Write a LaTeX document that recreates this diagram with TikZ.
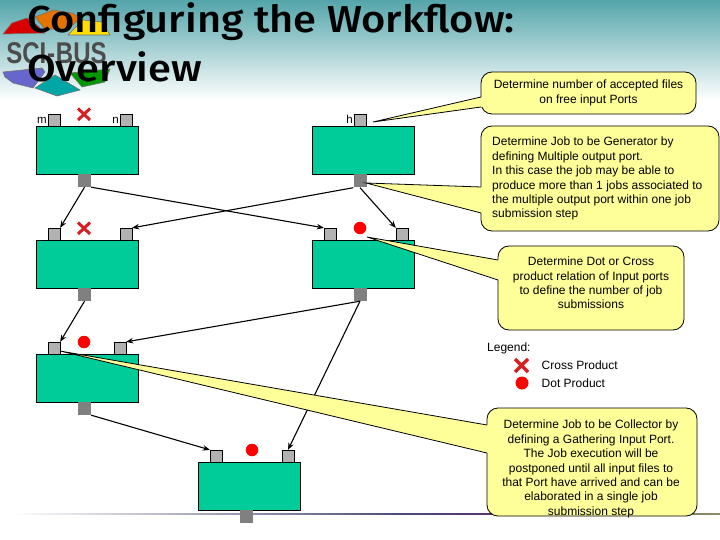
\documentclass[tikz,border=0pt]{standalone}
\usepackage{fontspec}
\setmainfont{Liberation Sans}
\newfontfamily\titlefont{Fira Sans Medium}
\usetikzlibrary{arrows.meta,shadings}
\definecolor{jobgreen}{HTML}{00CC99}
\definecolor{portgray}{HTML}{B2B2B2}
\definecolor{outgray}{HTML}{808080}
\definecolor{noteyellow}{HTML}{FFFF99}
\definecolor{crossred}{HTML}{D81E20}
\tikzset{
  x=1pt,y=-1pt,
  job/.style={draw=black,line width=0.8pt,fill=jobgreen,minimum width=102pt,minimum height=48pt,inner sep=0pt},
  inport/.style={draw=black,line width=0.3pt,fill=portgray,minimum width=12pt,minimum height=12pt,inner sep=0pt},
  outport/.style={fill=outgray,minimum width=13pt,minimum height=13pt,inner sep=0pt},
  flow/.style={draw=black,line width=1.1pt,-{Stealth[length=7pt,width=5.5pt]}},
  note/.style={draw=black,line width=0.8pt,fill=noteyellow,rounded corners=11pt,inner sep=0pt},
  tail/.style={draw=black,line width=0.8pt},
  notetext/.style={font=\fontsize{12}{14.4}\selectfont,align=center,inner sep=0pt},
  portlabel/.style={font=\fontsize{11.5}{12}\selectfont,inner sep=0pt},
  dotmark/.style={circle,fill=red,minimum size=12.5pt,inner sep=0pt},
  crossmark/.style={draw=crossred,line width=3pt},
  logopiece/.style={draw=black!55,line width=0.6pt},
  titletext/.style={font=\titlefont\fontsize{37.5}{40}\selectfont,anchor=base west,inner sep=0pt,xscale=1.11},
}
\begin{document}
\begin{tikzpicture}
\useasboundingbox (0,0) rectangle (720,540);
\shade[top color={rgb,255:red,84;green,165;blue,170},bottom color=white] (0,0) rectangle (720,100);
% bottom rule
\shade[left color=white,right color={rgb,255:red,75;green,75;blue,120}] (10,513.3) rectangle (400,514.8);
\shade[left color={rgb,255:red,75;green,75;blue,120},right color={rgb,255:red,90;green,50;blue,110}] (400,513.3) rectangle (490,514.8);
\shade[left color={rgb,255:red,90;green,50;blue,110},right color={rgb,255:red,140;green,140;blue,100}] (490,513.3) rectangle (720,514.8);
% logo
\filldraw[logopiece,fill=red!85!black] (3,34) -- (12,23) -- (27,18) -- (38,26) -- (45,33) -- cycle;
\filldraw[logopiece,fill=orange!90!black] (35,17) -- (53,10) -- (72,13) -- (81,18) -- (68,29) -- (45,29) -- cycle;
\filldraw[logopiece,fill=yellow!80!orange] (68,35) -- (83,20) -- (103,22) -- (110,35) -- cycle;
\node[inner sep=0pt,text=black!70,xscale=0.8,font=\fontsize{30}{30}\selectfont\bfseries] (logotext) at (56.500,53) {SCI\kern1pt-\kern1ptBUS};
\filldraw[logopiece,fill=blue!50!gray!80] (3,72) -- (42,68) -- (45,72) -- (33,88) -- (13,83) -- (5,77) -- cycle;
\filldraw[logopiece,fill=teal!70!cyan] (35,88) -- (55,75) -- (80,90) -- (57,96) -- cycle;
\filldraw[logopiece,fill=green!60!black] (70,73) -- (110,69) -- (105,82) -- (82,87) -- cycle;
% title
\node[titletext] (title1) at (27,33) {Configuring the Workflow:};
\node[titletext] (title2) at (27,82) {Overview};
% jobs
\node[job] (j1) at (87,150) {};
\node[inport] (p1a) at (54,120) {};
\node[inport] (p1b) at (126,120) {};
\node[outport] (o1) at (84.500,180.500) {};
\node[job] (j2) at (363,150) {};
\node[inport] (p2a) at (360.500,120) {};
\node[outport] (o2) at (360,181) {};
\node[job] (j3) at (87,264) {};
\node[inport] (p3a) at (54,234) {};
\node[inport] (p3b) at (126,234) {};
\node[outport] (o3) at (84.500,294.500) {};
\node[job] (j4) at (363,264) {};
\node[inport] (p4a) at (330,234) {};
\node[inport] (p4b) at (402,234) {};
\node[outport] (o4) at (360,294.500) {};
\node[job] (j5) at (87,378) {};
\node[inport] (p5a) at (54,348) {};
\node[inport] (p5b) at (120,348) {};
\node[outport] (o5) at (84.500,408.500) {};
\node[job] (j6) at (249,486) {};
\node[inport] (p6a) at (216,456) {};
\node[inport] (p6b) at (288,456) {};
\node[outport] (o6) at (246.500,516.500) {};
% port labels
\node[portlabel] (lm) at (42,120) {m};
\node[portlabel] (ln) at (115.500,120) {n};
\node[portlabel] (lh) at (349.500,119.500) {h};
% connectors
\draw[flow] (o1.south) -- (p3a.north east);
\draw[flow] (o1.south east) -- (p4a.north west);
\draw[flow] (o2.south west) -- (p3b.north east);
\draw[flow] (o2.south) -- (p4b.north west);
\draw[flow] (o3.south) -- (p5a.north east);
\draw[flow] (o4.south) -- (p5b.north east);
\draw[flow] (o4.south) -- (p6b.north);
\draw[flow] (o5.south east) -- (p6a.north west);
% markers
\draw[crossmark] (78,108.500) -- (90,120) (90,108.500) -- (78,120);
\draw[crossmark] (78,222.500) -- (90,234) (90,222.500) -- (78,234);
\node[dotmark] (d4) at (360,228) {};
\node[dotmark] (d5) at (84,342) {};
\node[dotmark] (d6) at (252,450) {};
% callouts
\coordinate (t1) at (373,122);
\coordinate (t2) at (366,183);
\coordinate (t3) at (367,237);
\coordinate (t4) at (60,351);
\coordinate (b1a) at (481,97);
\coordinate (b1b) at (481,107);
\coordinate (b2a) at (481,187);
\coordinate (b2b) at (481,213);
\coordinate (b3a) at (498,260);
\coordinate (b3b) at (498,280);
\coordinate (b4a) at (487,425);
\coordinate (b4b) at (487,453);
\node[note,minimum width=215pt,minimum height=42pt] (c1) at (588.500,93) {};
\node[note,minimum width=238pt,minimum height=105pt] (c2) at (600,178.500) {};
\node[note,minimum width=186pt,minimum height=84pt] (c3) at (591,288) {};
\node[note,minimum width=210pt,minimum height=108pt] (c4) at (592,462) {};
\foreach \t/\a/\b in {t1/b1a/b1b,t2/b2a/b2b,t3/b3a/b3b,t4/b4a/b4b}{
  \fill[noteyellow] (\t) -- ([xshift=1.2pt]\a) -- ([xshift=1.2pt]\b) -- cycle;
  \draw[tail] (\a) -- (\t) -- (\b);
}
\node[notetext] (n1) at (588.500,93) {Determine number of accepted files\\on free input Ports};
\node[notetext,align=left,anchor=north west] (n2) at (492,137) {Determine Job to be Generator by\\defining Multiple output port.\\In this case the job may be able to\\produce more than 1 jobs associated to\\the multiple output port within one job\\submission step};
\node[notetext] (n3) at (591,283) {Determine Dot or Cross\\product relation of Input ports\\to define the number of job\\submissions};
\node[notetext,anchor=south] (n4) at (591,518) {Determine Job to be Collector by\\defining a Gathering Input Port.\\The Job execution will be\\postponed until all input files to\\that Port have arrived and can be\\elaborated in a single job\\submission step};
% legend
\node[notetext,anchor=base west] (lg) at (487,351) {Legend:};
\draw[crossmark,line width=3.4pt] (515,359) -- (528,372) (528,359) -- (515,372);
\node[dotmark,minimum size=13pt] (lgd) at (522,383) {};
\node[notetext,anchor=base west] (lg1) at (541.500,369) {Cross Product};
\node[notetext,anchor=base west] (lg2) at (541.500,387) {Dot Product};
\end{tikzpicture}
\end{document}
